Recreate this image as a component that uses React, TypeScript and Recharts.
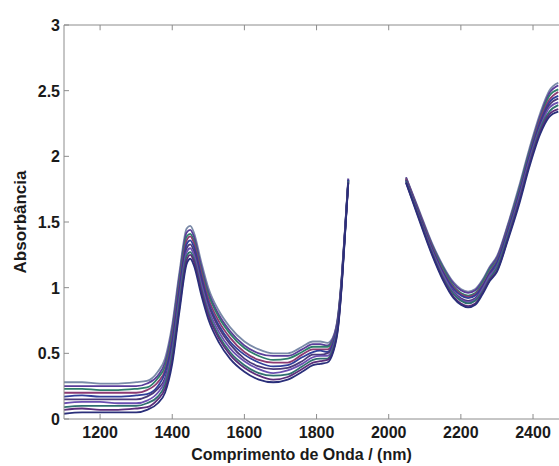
import React from 'react';
import { LineChart, Line, XAxis, YAxis, ReferenceLine } from 'recharts';

// Wavelength (nm) sample points; 1960 is a gap (no data) between the two regions
const wavelengths = [
  1100, 1150, 1200, 1250, 1300, 1330, 1360, 1380, 1400, 1420, 1440, 1450, 1460, 1480, 1500, 1530,
  1560, 1600, 1640, 1680, 1720, 1760, 1790, 1810, 1830, 1845, 1860, 1870, 1880, 1888,
  1960,
  2048, 2080, 2120, 2150, 2180, 2200, 2220, 2240, 2260, 2280, 2300, 2330, 2360, 2390, 2420, 2445, 2470,
];

const s0 = [.28, .28, .27, .27, .28, .29, .36, .46, .72, 1.12, 1.45, 1.47, 1.42, 1.20, 1.00, .82, .70, .59, .53, .50, .50, .55, .59, .59, .58, .62, .80, 1.10, 1.50, 1.83, null, 1.84, 1.62, 1.34, 1.17, 1.04, .99, .97, .99, 1.06, 1.16, 1.24, 1.48, 1.76, 2.06, 2.33, 2.50, 2.56];
const s1 = [.25, .25, .25, .25, .25, .27, .33, .43, .69, 1.09, 1.42, 1.44, 1.39, 1.17, .97, .79, .67, .56, .50, .48, .48, .53, .57, .57, .56, .61, .79, 1.09, 1.49, 1.83, null, 1.84, 1.61, 1.33, 1.16, 1.03, .98, .96, .98, 1.05, 1.15, 1.23, 1.47, 1.74, 2.04, 2.31, 2.48, 2.54];
const s2 = [.23, .23, .22, .22, .23, .24, .31, .40, .65, 1.05, 1.39, 1.41, 1.36, 1.14, .95, .77, .65, .54, .48, .45, .46, .51, .55, .55, .55, .59, .78, 1.08, 1.49, 1.82, null, 1.83, 1.60, 1.32, 1.15, 1.01, .96, .94, .96, 1.04, 1.14, 1.21, 1.45, 1.73, 2.03, 2.29, 2.46, 2.51];
const s3 = [.20, .20, .20, .20, .20, .22, .28, .37, .62, 1.02, 1.36, 1.39, 1.34, 1.12, .92, .74, .62, .51, .45, .43, .43, .49, .53, .53, .53, .58, .77, 1.07, 1.48, 1.82, null, 1.83, 1.60, 1.31, 1.13, 1.00, .95, .93, .95, 1.02, 1.12, 1.20, 1.44, 1.71, 2.01, 2.28, 2.43, 2.49];
const s4 = [.17, .18, .17, .17, .18, .19, .25, .35, .59, .99, 1.33, 1.36, 1.31, 1.09, .89, .71, .59, .49, .43, .40, .41, .47, .51, .52, .51, .57, .76, 1.06, 1.48, 1.82, null, 1.82, 1.59, 1.30, 1.12, .99, .94, .92, .94, 1.01, 1.11, 1.19, 1.43, 1.70, 2.00, 2.26, 2.41, 2.46];
const s5 = [.15, .15, .15, .15, .15, .17, .23, .31, .55, .95, 1.30, 1.33, 1.28, 1.06, .87, .69, .57, .46, .40, .38, .39, .44, .49, .49, .50, .55, .74, 1.06, 1.47, 1.81, null, 1.82, 1.58, 1.29, 1.11, .97, .92, .90, .92, 1.00, 1.10, 1.17, 1.41, 1.68, 1.98, 2.24, 2.39, 2.44];
const s6 = [.12, .13, .13, .12, .12, .14, .20, .29, .52, .92, 1.27, 1.30, 1.25, 1.03, .84, .66, .54, .44, .38, .35, .37, .42, .47, .48, .48, .54, .73, 1.05, 1.47, 1.81, null, 1.81, 1.57, 1.28, 1.10, .96, .91, .89, .91, .99, 1.09, 1.16, 1.40, 1.67, 1.97, 2.22, 2.37, 2.41];
const s7 = [.09, .10, .10, .10, .10, .12, .17, .26, .49, .89, 1.24, 1.27, 1.22, 1.00, .81, .63, .51, .41, .35, .33, .34, .40, .45, .46, .46, .53, .72, 1.04, 1.46, 1.81, null, 1.81, 1.57, 1.27, 1.08, .95, .90, .88, .90, .97, 1.07, 1.15, 1.39, 1.65, 1.95, 2.21, 2.34, 2.39];
const s8 = [.07, .08, .07, .07, .08, .09, .15, .23, .45, .85, 1.21, 1.25, 1.20, .98, .79, .61, .49, .39, .33, .30, .32, .38, .43, .44, .45, .51, .71, 1.03, 1.46, 1.80, null, 1.80, 1.56, 1.26, 1.07, .93, .88, .86, .88, .96, 1.06, 1.13, 1.37, 1.64, 1.94, 2.19, 2.32, 2.36];
const s9 = [.04, .05, .05, .05, .05, .07, .12, .20, .42, .82, 1.18, 1.22, 1.17, .95, .76, .58, .46, .36, .30, .28, .30, .36, .41, .42, .43, .50, .70, 1.02, 1.45, 1.80, null, 1.80, 1.55, 1.25, 1.06, .92, .87, .85, .87, .95, 1.05, 1.12, 1.36, 1.62, 1.92, 2.17, 2.30, 2.34];

const seriesList = [s0, s1, s2, s3, s4, s5, s6, s7, s8, s9];
const seriesColors = ['#7a8aa8', '#5a3d9a', '#2e7d6b', '#8b3a72', '#2f3f9a', '#4a3a7a', '#6a4fb0', '#2f6f6f', '#5c2d7a', '#2a2f7a'];

const xTicks = [1200, 1400, 1600, 1800, 2000, 2200, 2400];
const yTicks = [0, 0.5, 1, 1.5, 2, 2.5, 3];
const yTickLabels: Record<string, string> = { '0': '0', '0.5': '0.5', '1': '1', '1.5': '1.5', '2': '2', '2.5': '2.5', '3': '3' };
const yMax = 3;
const topTickLen = 0.04;

const xTitle = 'Comprimento de Onda / (nm)';
const yTitle = 'Absorbância';

const data = wavelengths.map((w, i) => {
  const row: Record<string, number | null> = { w };
  seriesList.forEach((s, k) => {
    row['s' + k] = s[i];
  });
  return row;
});

const FONT = '"Liberation Sans", Arial, sans-serif';
const AXIS = '#8c8c8c';
const TEXT = '#1a1a1a';

const BottomTick = (props: any) => {
  const { x, y, payload } = props;
  return (
    <g>
      <line x1={x} x2={x} y1={y} y2={y - 5} stroke={AXIS} />
      <text x={x} y={y + 19} textAnchor="middle" fontFamily={FONT} fontWeight="bold" fontSize={16} fill={TEXT}>
        {payload.value}
      </text>
    </g>
  );
};

const LeftTick = (props: any) => {
  const { x, y, payload } = props;
  return (
    <g>
      <line x1={x} x2={x + 5} y1={y} y2={y} stroke={AXIS} />
      <text x={x - 4} y={y + 6} textAnchor="end" fontFamily={FONT} fontWeight="bold" fontSize={16} fill={TEXT}>
        {yTickLabels[String(payload.value)] ?? payload.value}
      </text>
    </g>
  );
};

const XTitle = (props: any) => {
  const vb = props.viewBox || {};
  return (
    <text x={vb.x + vb.width / 2 - 10} y={vb.y + 41} textAnchor="middle" fontFamily={FONT} fontWeight="bold" fontSize={16} fill={TEXT}>
      {xTitle}
    </text>
  );
};

const YTitle = (props: any) => {
  const vb = props.viewBox || {};
  const cx = 26;
  const cy = vb.y + vb.height / 2;
  return (
    <text x={cx} y={cy} transform={`rotate(-90 ${cx} ${cy})`} textAnchor="middle" fontFamily={FONT} fontWeight="bold" fontSize={17} fill={TEXT}>
      {yTitle}
    </text>
  );
};

export default function App() {
  return (
    <div style={{ position: 'absolute', left: 0, top: 0, width: 559, height: 466, background: '#fff' }}>
      <LineChart width={559} height={466} data={data} margin={{ top: 25, right: 0, bottom: 0, left: 0 }}>
        <XAxis
          dataKey="w"
          type="number"
          domain={[1100, 2472]}
          allowDataOverflow
          ticks={xTicks}
          height={47}
          stroke={AXIS}
          tickLine={false}
          tickSize={0}
          tickMargin={0}
          tick={<BottomTick />}
          label={<XTitle />}
        />
        <YAxis
          type="number"
          domain={[0, yMax]}
          ticks={yTicks}
          width={64}
          stroke={AXIS}
          tickLine={false}
          tickSize={0}
          tickMargin={0}
          tick={<LeftTick />}
          label={<YTitle />}
        />
        {/* top frame line and its inward ticks */}
        <ReferenceLine y={yMax} stroke={AXIS} strokeWidth={1} />
        {xTicks.map((t) => (
          <ReferenceLine
            key={'tt' + t}
            segment={[{ x: t, y: yMax }, { x: t, y: yMax - topTickLen }]}
            stroke={AXIS}
          />
        ))}
        {seriesList.map((_, k) => (
          <Line
            key={k}
            dataKey={'s' + k}
            type="monotone"
            stroke={seriesColors[k]}
            strokeWidth={1.8}
            dot={false}
            isAnimationActive={false}
            connectNulls={false}
          />
        ))}
      </LineChart>
    </div>
  );
}
